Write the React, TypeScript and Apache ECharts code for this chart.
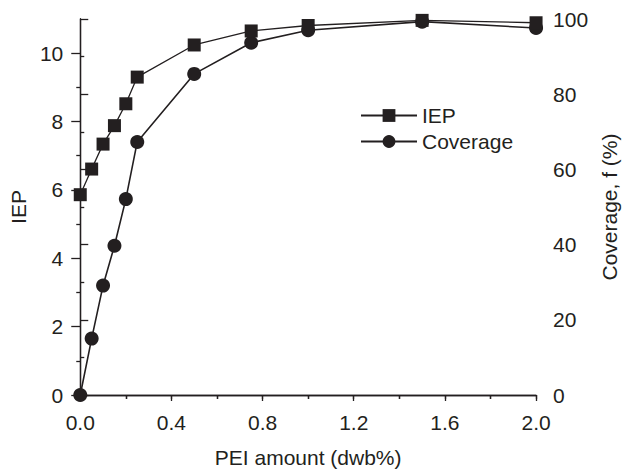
import React, { useEffect, useRef } from "react";
import * as echarts from "echarts";

const xValues = [0, 0.05, 0.1, 0.15, 0.2, 0.25, 0.5, 0.75, 1.0, 1.5, 2.0];
const iepValues = [5.86, 6.61, 7.34, 7.88, 8.52, 9.3, 10.24, 10.65, 10.81, 10.96, 10.89];
const coverageValues = [0, 15.0, 29.1, 39.7, 52.1, 67.3, 85.4, 93.7, 97.0, 99.3, 97.6];
const leftTicks = [0, 2, 4, 6, 8, 10];
const leftMinorTicks = [1, 3, 5, 7, 9];

const INK = "#231f20";
const FONT = "Liberation Sans, Arial, Helvetica, sans-serif";

export default function App() {
  const ref = useRef<HTMLDivElement>(null);
  useEffect(() => {
    if (!ref.current) return;
    const chart = echarts.init(ref.current, undefined, { renderer: "svg" });
    const axisLine = { show: true, lineStyle: { color: INK, width: 1.3 } };
    const label = { color: INK, fontSize: 21, fontFamily: FONT };
    chart.setOption({
      animation: false,
      backgroundColor: "#ffffff",
      grid: { left: 77, right: 81, top: 19, bottom: 72, containLabel: false },
      legend: {
        orient: "vertical",
        left: 355,
        top: 100,
        itemWidth: 56,
        itemHeight: 16,
        itemGap: 5,
        textStyle: { color: INK, fontSize: 21, fontFamily: FONT, lineHeight: 21 },
        data: ["IEP", "Coverage"],
      },
      xAxis: [
        {
          type: "value",
          position: "bottom",
          min: 0,
          max: 2,
          interval: 0.4,
          name: "PEI amount (dwb%)",
          nameLocation: "middle",
          nameGap: 52,
          nameTextStyle: label,
          axisLine,
          axisTick: { show: true, inside: false, length: 6, lineStyle: { color: INK, width: 1.3 } },
          minorTick: { show: true, splitNumber: 2, length: 4, lineStyle: { color: INK, width: 1.3 } },
          axisLabel: { ...label, margin: 17, formatter: (v: number) => v.toFixed(1) },
          splitLine: { show: false },
        },
        {
          type: "value",
          position: "top",
          min: 0,
          max: 2,
          interval: 0.2,
          axisLine,
          axisTick: { show: true, inside: true, length: 4, lineStyle: { color: INK, width: 1.3 } },
          axisLabel: { show: false },
          splitLine: { show: false },
        },
      ],
      yAxis: [
        {
          type: "value",
          position: "left",
          min: 0,
          max: 11,
          name: "IEP",
          nameLocation: "middle",
          nameRotate: 90,
          nameGap: 48,
          nameTextStyle: label,
          axisLine,
          axisTick: { show: true, length: 9, customValues: leftTicks, lineStyle: { color: INK, width: 1.3 } },
          axisLabel: { ...label, margin: 17, customValues: leftTicks },
          splitLine: { show: false },
        },
        {
          type: "value",
          position: "right",
          min: 0,
          max: 100,
          interval: 20,
          name: "Coverage, f (%)",
          nameLocation: "middle",
          nameRotate: 90,
          nameGap: 60,
          nameTextStyle: label,
          axisLine,
          axisTick: { show: true, length: 8, lineStyle: { color: INK, width: 1.3 } },
          minorTick: { show: true, splitNumber: 2, length: 4, lineStyle: { color: INK, width: 1.3 } },
          axisLabel: { ...label, margin: 17 },
          splitLine: { show: false },
        },
        {
          type: "value",
          position: "left",
          min: 0,
          max: 11,
          axisLine: { show: false },
          axisTick: { show: true, length: 4, customValues: leftMinorTicks, lineStyle: { color: INK, width: 1.3 } },
          axisLabel: { show: false },
          splitLine: { show: false },
        },
      ],
      series: [
        {
          name: "IEP",
          type: "line",
          xAxisIndex: 0,
          yAxisIndex: 0,
          data: xValues.map((x, i) => [x, iepValues[i]]),
          symbol: "rect",
          symbolSize: 13,
          z: 3,
          lineStyle: { color: INK, width: 1.3 },
          itemStyle: { color: INK },
        },
        {
          name: "Coverage",
          type: "line",
          xAxisIndex: 0,
          yAxisIndex: 1,
          data: xValues.map((x, i) => [x, coverageValues[i]]),
          symbol: "circle",
          symbolSize: 14,
          z: 2,
          lineStyle: { color: INK, width: 1.6 },
          itemStyle: { color: INK },
        },
      ],
    });
    return () => chart.dispose();
  }, []);
  return (
    <div
      ref={ref}
      style={{ position: "fixed", left: 0, top: 0, width: 628, height: 473, background: "#fff" }}
    />
  );
}
